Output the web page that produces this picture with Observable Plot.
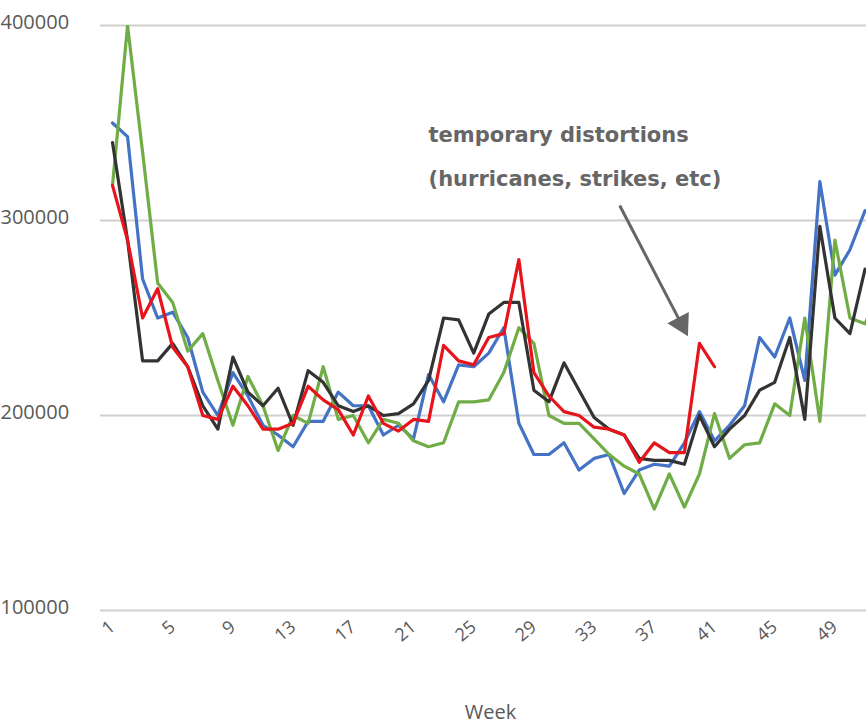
<!DOCTYPE html>
<html>
<head>
<meta charset="utf-8">
<script src="https://cdn.jsdelivr.net/npm/d3@7"></script>
<script src="https://cdn.jsdelivr.net/npm/@observablehq/plot@0.6"></script>
<style>
  body { margin: 0; background: #fff; overflow: hidden; }
</style>
</head>
<body>
<div id="chart"></div>
<script>
const black = [340000, 290000, 228000, 228000, 237000, 225000, 205000, 193000, 230000, 212000, 205000, 214000, 195000, 223000, 217000, 205000, 202000, 205000, 200000, 201000, 206000, 218000, 250000, 249000, 232000, 252000, 258000, 258000, 213000, 207000, 227000, 213000, 199000, 193000, 190000, 178000, 177000, 177000, 175000, 200000, 184000, 193000, 200000, 213000, 217000, 240000, 198000, 297000, 250000, 242000, 275000, 270000];
const blue = [350000, 343000, 270000, 250000, 253000, 240000, 212000, 200000, 222000, 210000, 195000, 190000, 184000, 197000, 197000, 212000, 205000, 205000, 190000, 195000, 188000, 221000, 207000, 226000, 225000, 232000, 245000, 196000, 180000, 180000, 186000, 172000, 178000, 180000, 160000, 172000, 175000, 174000, 186000, 202000, 187000, 195000, 205000, 240000, 230000, 250000, 218000, 320000, 272000, 285000, 305000];
const green = [318000, 400000, 335000, 268000, 258000, 233000, 242000, 218000, 195000, 220000, 205000, 182000, 200000, 196000, 225000, 198000, 200000, 186000, 198000, 196000, 187000, 184000, 186000, 207000, 207000, 208000, 222000, 245000, 237000, 200000, 196000, 196000, 188000, 180000, 174000, 170000, 152000, 170000, 153000, 170000, 201000, 178000, 185000, 186000, 206000, 200000, 250000, 197000, 290000, 250000, 247000, 265000];
const red = [318000, 290000, 250000, 265000, 235000, 225000, 200000, 198000, 215000, 205000, 193000, 193000, 196000, 215000, 208000, 203000, 190000, 210000, 196000, 192000, 198000, 197000, 236000, 228000, 226000, 240000, 242000, 280000, 222000, 210000, 202000, 200000, 194000, 193000, 190000, 176000, 186000, 181000, 181000, 237000, 225000];
const weekTicks = [1, 5, 9, 13, 17, 21, 25, 29, 33, 37, 41, 45, 49];
const yTicks = [100000, 200000, 300000, 400000];
const note = [{week: 22.0, value: 336000, text: "temporary distortions\n(hurricanes, strikes, etc)"}];
const arrow = [{w1: 34.7, v1: 307700, w2: 38.8, v2: 247000}];

const rows = (vals, color) => vals.map((v, i) => ({week: i + 1, value: v, color}));
const series = [
  ["#4472c4", blue], ["#70ad47", green], ["#333333", black], ["#e8141c", red]
];

const plot = Plot.plot({
  width: 866,
  height: 728,
  marginLeft: 100,
  marginRight: 0,
  marginTop: 25,
  marginBottom: 118,
  x: {domain: [1, 51.1], insetLeft: 12},
  y: {domain: [100000, 400000], axis: null},
  style: {fontFamily: "'Open Sans', sans-serif", color: "#595959"},
  marks: [
    Plot.ruleY(yTicks, {stroke: "#d0d0d0", strokeWidth: 2}),
    Plot.text(yTicks, {y: d => d, frameAnchor: "left", dx: -100, dy: -3, textAnchor: "start", fontSize: 20, fill: "#595959", text: d => String(d)}),
    Plot.axisX(weekTicks, {tickSize: 0, tickRotate: -40, fontSize: 18, tickPadding: 14, label: null}),
    Plot.text(["Week"], {frameAnchor: "bottom", dy: 108, dx: 7, fontSize: 20, fill: "#595959", text: d => d}),
    ...series.map(([c, vals]) => Plot.line(rows(vals, c), {x: "week", y: "value", stroke: c, strokeWidth: 3.2, clip: true})),
    Plot.text(note, {x: "week", y: "value", text: "text", textAnchor: "start", fontFamily: "'DejaVu Sans', sans-serif", fontSize: 21, fontWeight: "bold", fill: "#666", lineHeight: 2.1}),
    Plot.link(arrow, {x1: "w1", y1: "v1", x2: "w2", y2: "v2", stroke: "#666", strokeWidth: 3}),
    Plot.dot(arrow, {x: "w2", y: "v2", symbol: "triangle", r: 9, fill: "#666", rotate: 152})
  ]
});
document.getElementById("chart").append(plot);
</script>
</body>
</html>
